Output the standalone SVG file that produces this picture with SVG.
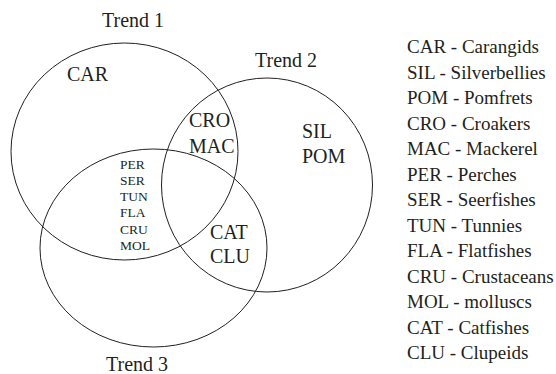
<svg xmlns="http://www.w3.org/2000/svg" width="556" height="374" viewBox="0 0 556 374">
<style>
.c{fill:none;stroke:#231f20;stroke-width:1}
.t{font-size:20px}
.s{font-size:13.5px}
.l{font-size:19px}
</style>
<rect width="556" height="374" fill="#fff"/>
<g font-family="Liberation Serif, Times New Roman, Times, serif" fill="#231f20">
<g id="trend1"><ellipse class="c" cx="124.5" cy="151.5" rx="113.5" ry="108.5"/><text class="t" x="102" y="27">Trend 1</text></g>
<g id="trend2"><ellipse class="c" cx="267" cy="185" rx="105.5" ry="107"/><text class="t" x="255" y="67">Trend 2</text></g>
<g id="trend3"><ellipse class="c" cx="153.5" cy="248" rx="113.5" ry="99"/><text class="t" x="106" y="371">Trend 3</text></g>
<g id="labels">
<text class="t" x="67" y="81">CAR</text>
<text class="t" x="189" y="127">CRO</text>
<text class="t" x="189" y="153">MAC</text>
<text class="t" x="302" y="138">SIL</text>
<text class="t" x="302" y="163">POM</text>
<text class="t" x="210" y="239">CAT</text>
<text class="t" x="210" y="263">CLU</text>
<text class="s" x="120" y="169">PER</text>
<text class="s" x="120" y="185">SER</text>
<text class="s" x="120" y="201">TUN</text>
<text class="s" x="120" y="217">FLA</text>
<text class="s" x="120" y="234">CRU</text>
<text class="s" x="120" y="250">MOL</text>
</g>
<g id="legend">
<text class="l" x="407" y="53">CAR - Carangids</text>
<text class="l" x="407" y="78.5">SIL - Silverbellies</text>
<text class="l" x="407" y="104">POM - Pomfrets</text>
<text class="l" x="407" y="129.5">CRO - Croakers</text>
<text class="l" x="407" y="155">MAC - Mackerel</text>
<text class="l" x="407" y="180.5">PER - Perches</text>
<text class="l" x="407" y="206">SER - Seerfishes</text>
<text class="l" x="407" y="231.5">TUN - Tunnies</text>
<text class="l" x="407" y="257">FLA - Flatfishes</text>
<text class="l" x="407" y="282.5">CRU - Crustaceans</text>
<text class="l" x="407" y="308">MOL - molluscs</text>
<text class="l" x="407" y="333.5">CAT - Catfishes</text>
<text class="l" x="407" y="359">CLU - Clupeids</text>
</g>
</g>
</svg>
